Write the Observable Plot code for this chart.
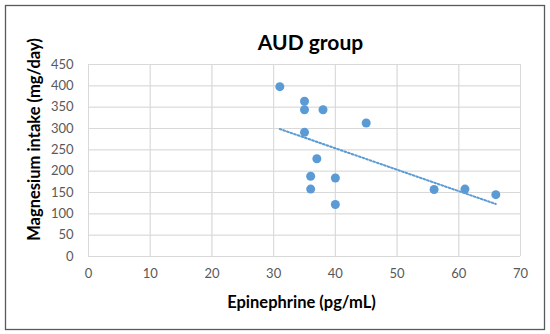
<!DOCTYPE html>
<html>
<head>
<meta charset="utf-8">
<script src="https://cdn.jsdelivr.net/npm/d3@7"></script>
<script src="https://cdn.jsdelivr.net/npm/@observablehq/plot@0.6"></script>
<style>
  html, body { margin: 0; padding: 0; background: #fff; }
  #chart svg { display: block; }
</style>
</head>
<body>
<div id="chart"></div>
<script>
const title = "AUD group";
const xTitle = "Epinephrine (pg/mL)";
const yTitle = "Magnesium intake (mg/day)";
const epinephrine = [31, 35, 35, 38, 45, 35, 37, 36, 40, 36, 40, 56, 61, 66];
const magnesium   = [398, 364, 344, 344, 313, 291, 229, 188, 184, 158, 122, 157, 158, 145];
const xTicks = [0, 10, 20, 30, 40, 50, 60, 70];
const yTicks = [0, 50, 100, 150, 200, 250, 300, 350, 400, 450];

const data = epinephrine.map((x, i) => ({x, y: magnesium[i]}));
const blue = "#5b9bd5";
const font = "Lato, 'Open Sans', sans-serif";

const chart = Plot.plot({
  width: 550,
  height: 334,
  marginLeft: 88,
  marginRight: 30,
  marginTop: 64,
  marginBottom: 78,
  style: {fontFamily: font, fontSize: "13px", color: "#595959", background: "#fff"},
  x: {domain: [0, 70], ticks: xTicks, tickSize: 0, tickPadding: 12, label: null, grid: true},
  y: {domain: [0, 450], ticks: yTicks, tickSize: 0, tickPadding: 15, label: null, grid: true},
  marks: [
    Plot.frame({stroke: "#595959", strokeWidth: 1.3, insetLeft: -83, insetTop: -59, insetRight: -24, insetBottom: -73}),
    Plot.gridX(xTicks, {stroke: "#d9d9d9", strokeOpacity: 1}),
    Plot.gridY(yTicks, {stroke: "#d9d9d9", strokeOpacity: 1}),
    Plot.axisX({ticks: xTicks, tickSize: 0, tickPadding: 12, label: null, fill: "#595959"}),
    Plot.axisY({ticks: yTicks, tickSize: 0, tickPadding: 15, label: null, fill: "#595959"}),
    Plot.linearRegressionY(data, {x: "x", y: "y", ci: 0, stroke: blue, strokeWidth: 2, strokeDasharray: "1.8,2"}),
    Plot.dot(data, {x: "x", y: "y", r: 4.5, fill: blue, stroke: "none"}),
    Plot.text([title], {frameAnchor: "top", dx: 6, dy: -29, fontSize: 21, fontWeight: "bold", fill: "#000"}),
    Plot.text([xTitle], {frameAnchor: "bottom", dx: -3, dy: 51, fontSize: 16.5, fontWeight: "bold", fill: "#000"}),
    Plot.text([yTitle], {frameAnchor: "left", textAnchor: "middle", dx: -54, dy: -21, rotate: -90, fontSize: 16.5, fontWeight: "bold", fill: "#000"})
  ]
});
document.getElementById("chart").appendChild(chart);
</script>
</body>
</html>
